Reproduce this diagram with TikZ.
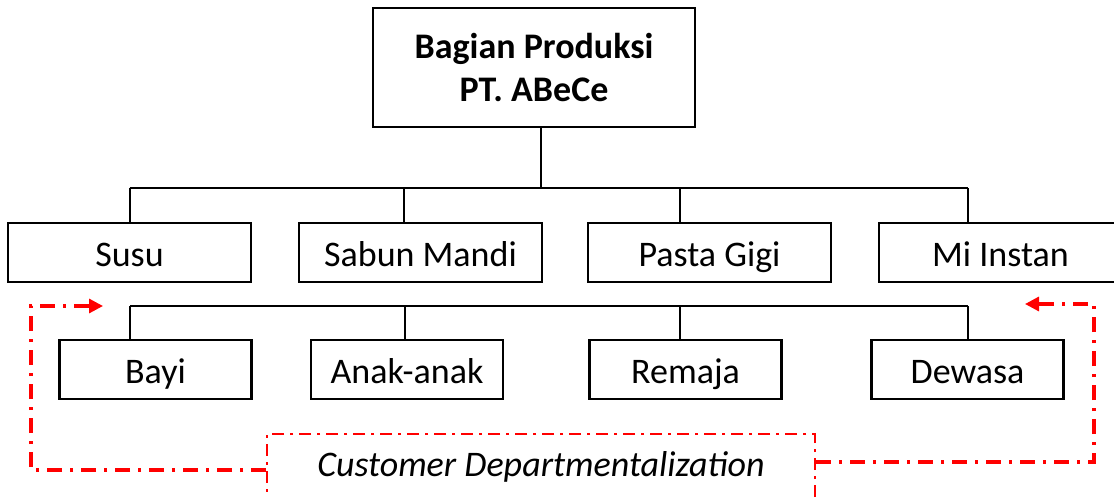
\documentclass[tikz,border=0pt]{standalone}
\usepackage{fontspec}
\setmainfont{Carlito}
\usetikzlibrary{arrows.meta}

\begin{document}
\begin{tikzpicture}[
      x=0.5pt, y=-0.5pt,
      unit/.style={
        rectangle,
        draw=black,
        line width=1.2pt,
        text centered,
        inner sep=0pt,
        text height=18pt,
        text depth=4.5pt,
        minimum width=121.5pt,
        minimum height=29.5pt,
        font=\fontsize{18}{21.5}\selectfont
      },
      segment/.style={
        unit,
        minimum width=96pt
      },
      link/.style={draw=black, line width=1pt},
      flow/.style={
        draw=red,
        line width=1.6pt,
        dash pattern=on 7.5pt off 4pt on 1.5pt off 4pt,
        -{Triangle[length=7pt,width=7pt]}
      },
      custbox/.style={
        rectangle,
        draw=red,
        line width=1pt,
        dash pattern=on 6pt off 3pt on 1.5pt off 3pt,
        inner sep=0pt,
        minimum width=274pt,
        text height=21pt,
        text depth=20pt,
        anchor=north,
        font=\itshape\fontsize{18}{21.5}\selectfont
      }
    ]

    \clip (0,0) rectangle (1114,498);

    \node [unit, minimum width=161pt, minimum height=59.5pt, align=center,
      text height=, text depth=,
      font=\bfseries\fontsize{18}{21.5}\selectfont] (Produksi) at (534,67.5) {Bagian Produksi\\PT. ABeCe};

    \node [unit] (Susu) at (129.5,252.5) {Susu};
    \node [unit] (Sabun) at (420.5,252.5) {Sabun Mandi};
    \node [unit] (Pasta) at (709.5,252.5) {Pasta Gigi};
    \node [unit] (Mi) at (1000.5,252.5) {Mi Instan};

    \node [segment] (Bayi) at (155.5,369.5) {Bayi};
    \node [segment] (Anak) at (407,369.5) {Anak-anak};
    \node [segment] (Remaja) at (685.5,369.5) {Remaja};
    \node [segment] (Dewasa) at (967.5,369.5) {Dewasa};

    \node [custbox] (Cust) at (541,433) {Customer Departmentalization};

    \coordinate (Bus) at (541,188);
    \coordinate (BusR) at (968,188);
    \coordinate (Bus2) at (130,306);
    \coordinate (Bus2R) at (968,306);

    \draw [link] (Produksi.south -| Bus) -- (Bus);
    \draw [link] (Susu.north |- Bus) -- (BusR);
    \foreach \name/\x in {Susu/130,Sabun/404,Pasta/680,Mi/968}
      \draw [link] (\x,188) -- (\x,188 |- \name.north);

    \draw [link] (Bus2) -- (Bus2R);
    \foreach \name/\x in {Bayi/130,Anak/405,Remaja/680,Dewasa/968}
      \draw [link] (\x,306) -- (\x,306 |- \name.north);

    \coordinate (LTip) at (103,306);
    \coordinate (LEdge) at (31,470);
    \coordinate (RTip) at (1025,304);
    \coordinate (REdge) at (1094,462);

    \draw [flow] (Cust.west |- LEdge) -| (LEdge |- LTip) -- (LTip);
    \draw [flow] (Cust.east |- REdge) -| (REdge |- RTip) -- (RTip);

    \end{tikzpicture}
\end{document}
